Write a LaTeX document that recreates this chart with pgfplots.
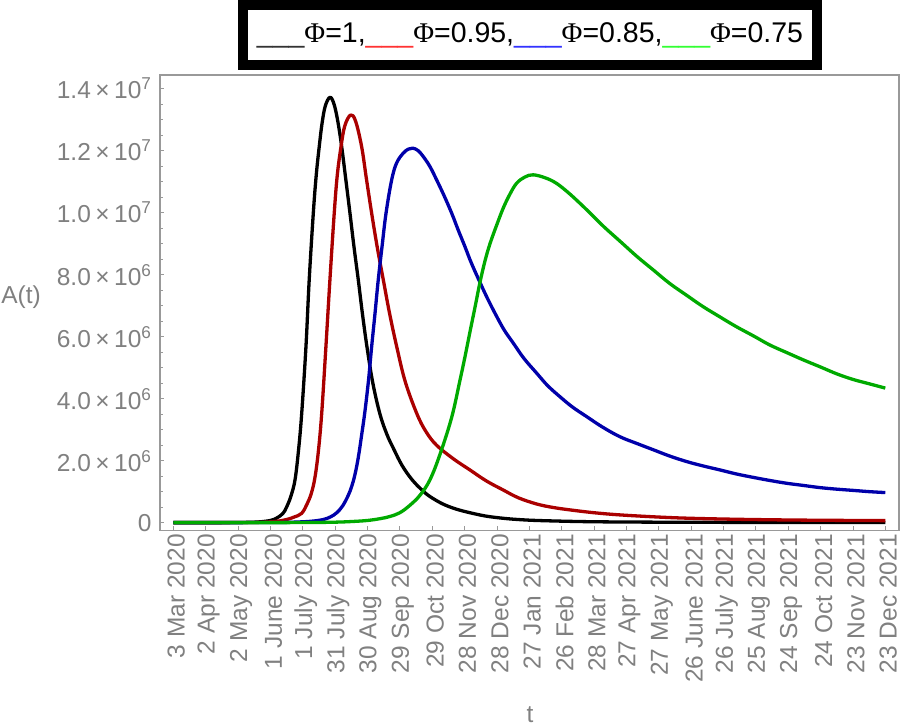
\documentclass[border=0pt]{standalone}
\usepackage{fontspec}
\setmainfont{Liberation Sans}
\newfontfamily\phifont{Liberation Serif}
\usepackage{pgfplots}
\pgfplotsset{compat=1.18}
\definecolor{framegray}{gray}{0.6}
\definecolor{labelgray}{gray}{0.5}
\definecolor{cblack}{rgb}{0,0,0}
\definecolor{cred}{rgb}{0.667,0,0}
\definecolor{cblue}{rgb}{0,0,0.667}
\definecolor{cgreen}{rgb}{0,0.667,0}
\definecolor{lred}{rgb}{1,0.2,0.2}
\definecolor{lblue}{rgb}{0.2,0.2,1}
\definecolor{lgreen}{rgb}{0.2,1,0.2}
\definecolor{lblack}{gray}{0.2}
\newcommand{\ylab}[2]{#1\hspace{4.5bp}×\hspace{4.5bp}10\textsuperscript{#2}}
\begin{document}
\begin{tikzpicture}
\begin{axis}[
  scale only axis,
  width=739bp, height=455.7bp,
  xmin=-12.3, xmax=672.7,
  ymin=-0.26, ymax=14.44,
  clip mode=individual,
  axis line style={draw=framegray, line width=1.4bp},
  tick align=inside,
  tick pos=left,
  major tick length=4.5bp,
  minor tick length=3.3bp,
  every tick/.style={draw=framegray, line width=0.8bp},
  xtick={0,30,...,660},
  xticklabels={3 Mar 2020, 2 Apr 2020, 2 May 2020, 1 June 2020, 1 July 2020, 31 July 2020, 30 Aug 2020, 29 Sep 2020, 29 Oct 2020, 28 Nov 2020, 28 Dec 2020, 27 Jan 2021, 26 Feb 2021, 28 Mar 2021, 27 Apr 2021, 27 May 2021, 26 June 2021, 26 July 2021, 25 Aug 2021, 24 Sep 2021, 24 Oct 2021, 23 Nov 2021, 23 Dec 2021},
  ytick={0,2,4,6,8,10,12,14},
  yticklabels={0, \ylab{2.0}{6}, \ylab{4.0}{6}, \ylab{6.0}{6}, \ylab{8.0}{6}, \ylab{1.0}{7}, \ylab{1.2}{7}, \ylab{1.4}{7}},
  minor y tick num=3,
  ticklabel style={font=\fontsize{24.5bp}{29bp}\selectfont, text=labelgray},
  xticklabel style={rotate=90, anchor=east, yshift=-3bp},
  yticklabel style={xshift=-5bp},
  xlabel={t},
  ylabel={A(t)},
  every axis x label/.style={at={(axis description cs:0.5007,-0.4044)}, anchor=center, font=\fontsize{24.5bp}{29bp}\selectfont, text=labelgray},
  every axis y label/.style={at={(axis description cs:-0.188,0.513)}, anchor=center, font=\fontsize{24.5bp}{29bp}\selectfont, text=labelgray},
]
% Phi = 1 (black)
\addplot[cblack, line width=3.3bp, line join=round, smooth, tension=0.6] coordinates {
(0,0) (40,0.001) (60,0.004) (70,0.01) (80,0.025) (90,0.07) (96,0.15) (101.7,0.3) (105,0.5) (109,0.85) (112.8,1.37) (116,2.3) (119,3.5) (123,5.68) (126,7.83) (129.8,9.98) (132.5,11.2) (135.3,12.13) (138,12.9) (141,13.45) (145.3,13.72) (149,13.5) (152.5,12.95) (156.1,12.13) (160,11.05) (163.8,9.98) (167.5,8.9) (171.5,7.83) (175.3,6.75) (179.5,5.68) (185,4.5) (191.6,3.5) (198,2.85) (204,2.4) (212,1.85) (221,1.4) (230,1.07) (238,0.84) (250,0.6) (262,0.44) (275,0.32) (290,0.21) (306,0.14) (320,0.1) (337,0.07) (370,0.04) (400,0.025) (450,0.015) (500,0.01) (560,0.007) (660,0.004)
};
% Phi = 0.95 (red)
\addplot[cred, line width=3.3bp, line join=round, smooth, tension=0.6] coordinates {
(0,0) (60,0.002) (80,0.01) (95,0.04) (105,0.1) (112,0.18) (119,0.3) (124,0.6) (128,0.95) (131.3,1.45) (134.5,2.3) (137.6,3.53) (141.5,5.68) (145.2,7.83) (149.2,9.98) (152,11.2) (155.5,12.13) (159,12.8) (164.4,13.15) (169,12.95) (174.6,12.13) (179,11.1) (183.9,9.98) (189,8.9) (194.7,7.83) (200.5,6.75) (207.1,5.68) (215,4.55) (225.6,3.53) (234,2.95) (244,2.5) (260,2.05) (275,1.7) (290,1.35) (306,1.05) (320,0.8) (337,0.6) (352,0.49) (368,0.41) (390,0.32) (414,0.25) (450,0.18) (480,0.14) (520,0.11) (560,0.09) (600,0.077) (660,0.065)
};
% Phi = 0.85 (blue)
\addplot[cblue, line width=3.3bp, line join=round, smooth, tension=0.6] coordinates {
(0,0) (80,0.002) (100,0.006) (115,0.02) (128,0.045) (139,0.1) (146,0.19) (151.5,0.32) (157,0.54) (162.2,0.88) (165.5,1.18) (168.4,1.55) (171.5,2.1) (174.5,2.8) (177.7,3.6) (181,4.6) (183.9,5.68) (187,6.75) (190,7.83) (193.5,8.9) (197.2,9.98) (202.4,11.05) (207,11.6) (213.2,11.92) (218,12.05) (221.9,12.08) (227,12.0) (233,11.75) (238.5,11.45) (244.2,11.05) (251,10.55) (258.1,9.98) (264,9.45) (270.4,8.9) (276,8.4) (283,7.85) (291,7.25) (299.8,6.65) (307,6.2) (315.2,5.79) (325,5.3) (336.9,4.82) (347,4.42) (358.5,4.06) (370,3.73) (383.2,3.42) (398,3.08) (414.1,2.77) (430,2.55) (445,2.35) (460,2.15) (475.9,1.97) (491,1.83) (506.8,1.70) (522,1.57) (537.6,1.46) (553,1.36) (568.6,1.27) (584,1.20) (599.5,1.13) (615,1.08) (630.3,1.04) (645,1.0) (660,0.97)
};
% Phi = 0.75 (green)
\addplot[cgreen, line width=3.3bp, line join=round, smooth, tension=0.6] coordinates {
(0,0) (100,0.001) (130,0.005) (150,0.015) (165,0.035) (180,0.07) (192,0.13) (201,0.2) (210,0.32) (219,0.55) (228.6,0.88) (237.9,1.38) (247.2,2.2) (258.1,3.4) (265.8,4.6) (270.4,5.35) (275,6.15) (279.7,6.95) (284.3,7.75) (289,8.45) (293.6,9.0) (299.8,9.6) (305.9,10.15) (312.1,10.6) (318.3,10.95) (326,11.15) (333.7,11.22) (345,11.12) (355,10.95) (366,10.65) (377,10.3) (388,9.93) (399,9.55) (415,9.05) (430,8.58) (445,8.15) (460,7.72) (476,7.33) (491,6.97) (507,6.63) (522,6.32) (538,6.02) (553,5.73) (569,5.48) (584,5.25) (600,5.02) (615,4.80) (630,4.62) (645,4.48) (660,4.34)
};
\node[draw=black, line width=10bp, minimum width=574bp, minimum height=60bp, inner sep=0pt,
  font=\fontsize{28.5bp}{32bp}\selectfont]
  at (axis description cs:0.50068,1.08778)
  {{\color{lblack}\_\_\_}{\phifont Φ}=1,{\color{lred}\_\_\_}{\phifont Φ}=0.95,{\color{lblue}\_\_\_}{\phifont Φ}=0.85,{\color{lgreen}\_\_\_}{\phifont Φ}=0.75};
\end{axis}
\pgfresetboundingbox
\path (-160bp,-196.3bp) rectangle (741bp,530.7bp);
\end{tikzpicture}
\end{document}
